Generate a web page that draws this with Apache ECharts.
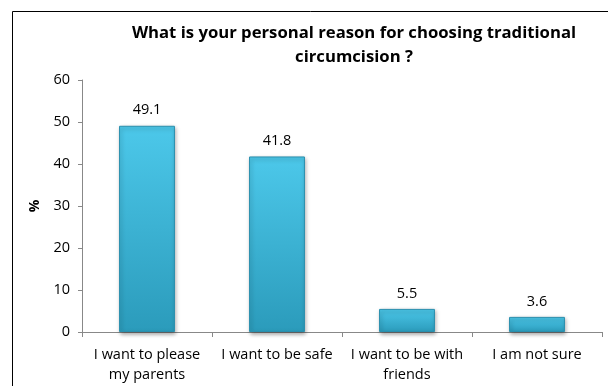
<!DOCTYPE html>
<html><head><meta charset="utf-8">
<script src="https://cdn.jsdelivr.net/npm/echarts@6/dist/echarts.min.js"></script>
<style>html,body{margin:0;padding:0;background:#fff}#c{width:608px;height:386px}</style>
</head><body><div id="c"></div>
<script>
const categories = ['I want to please\nmy parents', 'I want to be safe', 'I want to be with\nfriends', 'I am not sure'];
const values = [49.1, 41.8, 5.5, 3.6];
const yTicks = [0, 10, 20, 30, 40, 50, 60];
const titleText = 'What is your personal reason for choosing traditional\ncircumcision ?';
const yName = '%';

const chart = echarts.init(document.getElementById('c'));
const font = 'Open Sans';
chart.setOption({
  animation: false,
  graphic: [{type:'rect', shape:{x:12.5,y:11.5,width:640,height:420}, style:{fill:'none', stroke:'#000', lineWidth:1}, silent:true}],
  title: {text: titleText, left: 349, top: 16, textAlign: 'center',
    textStyle: {fontFamily: font, fontWeight: 'bold', fontSize: 16.7, color: '#000', lineHeight: 24}},
  grid: {left: 82, top: 80, right: 6, bottom: 54, containLabel: false},
  xAxis: {type: 'category', data: categories,
    axisLine: {lineStyle: {color: '#888'}},
    axisTick: {show: true, length: 5, lineStyle: {color: '#888'}},
    axisLabel: {interval: 0, fontFamily: font, fontSize: 14.5, color: '#000', lineHeight: 20, margin: 13, align: 'center'}},
  yAxis: {type: 'value', min: yTicks[0], max: yTicks[yTicks.length-1], interval: 10,
    name: yName, nameLocation: 'middle', nameGap: 40, nameRotate: 90,
    nameTextStyle: {fontFamily: font, fontWeight: 'bold', fontSize: 14, color: '#000'},
    axisLine: {show: true, lineStyle: {color: '#888'}},
    axisTick: {show: true, length: 4, lineStyle: {color: '#888'}},
    splitLine: {show: false},
    axisLabel: {fontFamily: font, fontSize: 14.5, color: '#000', margin: 12}},
  series: [{type: 'bar', data: values, barWidth: '43%',
    itemStyle: {
      color: new echarts.graphic.LinearGradient(0,0,0,1,[{offset:0,color:'#4cc8ea'},{offset:1,color:'#2b9bbb'}]),
      borderColor: '#2a8fae', borderWidth: 1,
      shadowColor: 'rgba(0,0,0,0.35)', shadowBlur: 4, shadowOffsetX: 1, shadowOffsetY: 2},
    label: {show: true, position: 'top', distance: 8, fontFamily: font, fontSize: 14.5, color: '#000',
      formatter: p => p.value.toFixed(1)}}]
});
</script></body></html>
